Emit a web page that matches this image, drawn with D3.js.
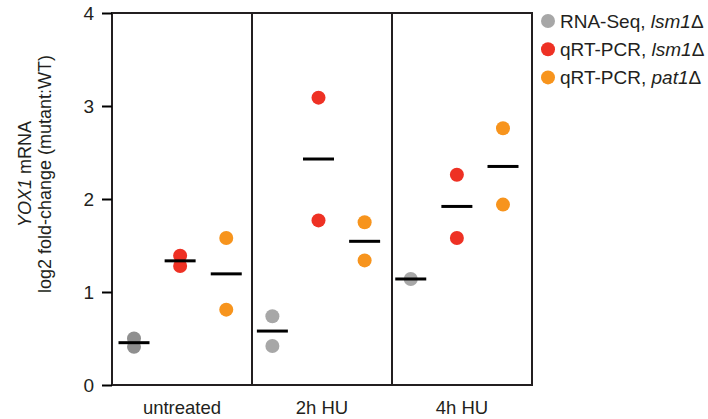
<!DOCTYPE html>
<html>
<head>
<meta charset="utf-8">
<script src="https://cdn.jsdelivr.net/npm/d3@7"></script>
<style>
  body { margin: 0; background: #fff; }
  text { font-family: "Liberation Sans", Arial, sans-serif; fill: #231f20; }
</style>
</head>
<body>
<div id="chart"></div>
<script>
// conditions (panels) and series
const conditions = ["untreated", "2h HU", "4h HU"];
const seriesNames = ["RNA-Seq", "qRT-PCR", "qRT-PCR"];
const seriesGenes = ["lsm1\u0394", "lsm1\u0394", "pat1\u0394"];
const seriesColors = ["#a7a7a7", "#ee3124", "#f7941d"];
const yTicks = [0, 1, 2, 3, 4];

// replicate values, one array per condition, one inner array per series
const untreatedValues = [[0.50, 0.41], [1.39, 1.28], [1.58, 0.81]];
const hu2Values = [[0.74, 0.42], [3.09, 1.77], [1.75, 1.34]];
const hu4Values = [[1.14], [2.26, 1.58], [2.76, 1.94]];
const allValues = [untreatedValues, hu2Values, hu4Values];

const width = 708, height = 419;
const margin = { top: 13, left: 112, right: 176, bottom: 34 };
const plotW = width - margin.left - margin.right;
const plotH = height - margin.top - margin.bottom;

const svg = d3.select("#chart").append("svg")
    .attr("width", width)
    .attr("height", height);

const g = svg.append("g")
    .attr("transform", "translate(" + margin.left + "," + margin.top + ")");

const y = d3.scaleLinear().domain([0, 4]).range([plotH, 0]);
const panel = d3.scaleBand().domain(conditions).range([0, plotW]);

// one slot per (condition, series) across the whole plot
const slots = [];
conditions.forEach(c => seriesNames.forEach((s, i) => slots.push(c + "|" + i)));
const xSlot = d3.scalePoint().domain(slots).range([22, plotW - 29]);

// points
const points = [];
conditions.forEach((c, ci) => {
    allValues[ci].forEach((vals, si) => {
        vals.forEach(v => points.push({ cond: c, series: si, value: v }));
    });
});

g.append("g").selectAll("circle")
    .data(points)
    .enter()
    .append("circle")
    .attr("cx", d => xSlot(d.cond + "|" + d.series))
    .attr("cy", d => y(d.value))
    .attr("r", 7)
    .style("fill", d => (d.cond === "untreated" && d.series === 0) ? "#8f8f8f" : seriesColors[d.series]);

// mean lines
const means = [];
conditions.forEach((c, ci) => {
    allValues[ci].forEach((vals, si) => {
        means.push({ cond: c, series: si, value: d3.mean(vals) });
    });
});

g.append("g").selectAll("line")
    .data(means)
    .enter()
    .append("line")
    .attr("x1", d => xSlot(d.cond + "|" + d.series) - 15.5)
    .attr("x2", d => xSlot(d.cond + "|" + d.series) + 15.5)
    .attr("y1", d => y(d.value))
    .attr("y2", d => y(d.value))
    .style("stroke", "#000")
    .style("stroke-width", 3);

// panel frames
g.append("g").selectAll("rect")
    .data(conditions)
    .enter()
    .append("rect")
    .attr("x", d => panel(d))
    .attr("y", 0)
    .attr("width", panel.bandwidth())
    .attr("height", plotH)
    .style("fill", "none")
    .style("stroke", "#231f20")
    .style("stroke-width", 2);

// y axis
const yAxis = g.append("g")
    .call(d3.axisLeft(y).tickValues(yTicks).tickSize(10).tickPadding(8).tickFormat(d3.format("d")));
yAxis.select(".domain").remove();
yAxis.selectAll(".tick line").style("stroke", "#000").style("stroke-width", 2);
yAxis.selectAll(".tick text")
    .style("font-size", "19px")
    .style("font-family", "'Liberation Sans', Arial, sans-serif")
    .style("fill", "#231f20");

// x labels
g.append("g").selectAll("text")
    .data(conditions)
    .enter()
    .append("text")
    .attr("x", d => panel(d) + panel.bandwidth() / 2)
    .attr("y", plotH + 29)
    .attr("text-anchor", "middle")
    .style("font-size", "18.5px")
    .text(d => d);

// y label
const yl = svg.append("text")
    .attr("transform", "translate(31,174) rotate(-90)")
    .attr("text-anchor", "middle")
    .style("font-size", "18px");
yl.append("tspan").attr("x", 0).attr("dy", 0).style("font-style", "italic").text("YOX1");
yl.append("tspan").text(" mRNA");
yl.append("tspan").attr("x", 0).attr("dy", 20).text("log2 fold-change (mutant:WT)");

// legend
const legend = svg.append("g").selectAll("g")
    .data(seriesNames)
    .enter()
    .append("g")
    .attr("transform", (d, i) => "translate(548," + (21 + i * 28.2) + ")");

legend.append("circle")
    .attr("r", 7)
    .style("fill", (d, i) => seriesColors[i]);

const lt = legend.append("text")
    .attr("x", 12)
    .attr("y", 6.5)
    .style("font-size", "19px");
lt.append("tspan").text(d => d + ", ");
lt.append("tspan").style("font-style", "italic").text((d, i) => seriesGenes[i].slice(0, -1));
lt.append("tspan").text((d, i) => seriesGenes[i].slice(-1));
</script>
</body>
</html>
